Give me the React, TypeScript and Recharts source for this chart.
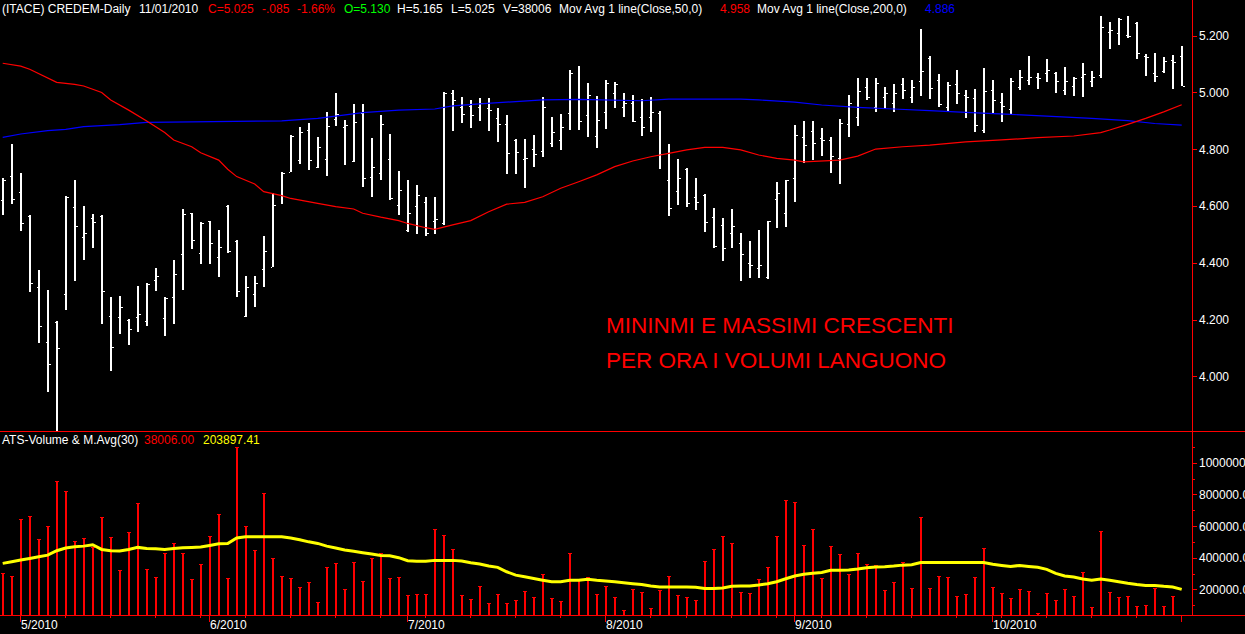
import React from 'react';
import { ComposedChart, Bar, Line, XAxis, YAxis } from 'recharts';

// ---- Daily OHLC (bar index 0 = 29/04/2010 ... 131 = 01/11/2010) ----
const highs = [
  4.699, 4.820, 4.716, 4.570, 4.376, 4.306, 4.197, 4.637, 4.693, 4.601,
  4.573, 4.570, 4.282, 4.285, 4.202, 4.320, 4.329, 4.382, 4.282, 4.411,
  4.591, 4.576, 4.544, 4.550, 4.517, 4.605, 4.482, 4.355, 4.355, 4.496,
  4.646, 4.720, 4.850, 4.878, 4.892, 4.843, 4.932, 4.998, 4.904, 4.961,
  4.961, 4.840, 4.922, 4.855, 4.725, 4.693, 4.675, 4.634, 4.634, 5.004,
  5.010, 4.986, 4.975, 4.982, 4.982, 4.945, 4.922, 4.836, 4.836, 4.851,
  4.986, 4.914, 4.924, 5.080, 5.094, 5.036, 4.989, 5.045, 5.039, 5.001,
  4.992, 4.977, 4.984, 4.937, 4.820, 4.766, 4.734, 4.699, 4.644, 4.593,
  4.558, 4.590, 4.505, 4.478, 4.517, 4.550, 4.687, 4.693, 4.887, 4.901,
  4.901, 4.875, 4.845, 4.907, 4.992, 5.051, 5.051, 5.051, 5.022, 5.031,
  5.051, 5.045, 5.223, 5.130, 5.066, 5.039, 5.080, 5.010, 5.012, 5.086,
  5.045, 5.000, 5.051, 5.080, 5.130, 5.071, 5.118, 5.074, 5.090, 5.054,
  5.104, 5.077, 5.270, 5.248, 5.262, 5.270, 5.248, 5.137, 5.139, 5.127,
  5.133, 5.165,
];
const lows = [
  4.567, 4.608, 4.511, 4.300, 4.118, 3.948, 3.780, 4.235, 4.339, 4.411,
  4.455, 4.186, 4.022, 4.151, 4.110, 4.159, 4.177, 4.300, 4.145, 4.187,
  4.306, 4.450, 4.397, 4.397, 4.353, 4.437, 4.282, 4.212, 4.247, 4.317,
  4.385, 4.608, 4.719, 4.747, 4.726, 4.734, 4.705, 4.881, 4.746, 4.757,
  4.670, 4.634, 4.693, 4.623, 4.570, 4.511, 4.503, 4.496, 4.503, 4.535,
  4.867, 4.895, 4.877, 4.902, 4.867, 4.824, 4.714, 4.714, 4.662, 4.740,
  4.775, 4.808, 4.796, 4.867, 4.867, 4.846, 4.807, 4.874, 4.946, 4.918,
  4.898, 4.846, 4.861, 4.732, 4.567, 4.603, 4.596, 4.585, 4.511, 4.452,
  4.405, 4.452, 4.335, 4.347, 4.347, 4.347, 4.526, 4.526, 4.617, 4.752,
  4.763, 4.775, 4.719, 4.678, 4.845, 4.881, 4.972, 4.930, 4.945, 4.934,
  4.977, 4.965, 4.986, 4.977, 4.951, 4.937, 4.960, 4.910, 4.860, 4.857,
  4.930, 4.898, 4.925, 5.010, 5.027, 5.013, 5.036, 5.000, 4.992, 4.986,
  4.986, 5.022, 5.053, 5.154, 5.166, 5.192, 5.119, 5.060, 5.036, 5.071,
  5.013, 5.025,
];
const opens = [
  4.623, 4.708, 4.650, 4.567, 4.315, 4.121, 4.194, 4.290, 4.597, 4.491,
  4.560, 4.567, 4.214, 4.209, 4.200, 4.209, 4.197, 4.341, 4.207, 4.280,
  4.431, 4.576, 4.435, 4.547, 4.421, 4.603, 4.478, 4.215, 4.290, 4.378,
  4.388, 4.641, 4.721, 4.763, 4.869, 4.738, 4.766, 4.907, 4.878, 4.760,
  4.928, 4.705, 4.716, 4.767, 4.605, 4.517, 4.601, 4.614, 4.550, 4.540,
  4.998, 4.951, 4.954, 4.951, 4.945, 4.910, 4.890, 4.834, 4.766, 4.801,
  4.796, 4.822, 4.834, 4.928, 4.977, 4.922, 4.848, 4.934, 4.998, 4.949,
  4.963, 4.914, 4.916, 4.928, 4.693, 4.655, 4.731, 4.634, 4.640, 4.564,
  4.534, 4.505, 4.470, 4.400, 4.382, 4.350, 4.625, 4.576, 4.699, 4.845,
  4.867, 4.840, 4.834, 4.769, 4.889, 4.914, 5.019, 4.949, 4.984, 4.963,
  5.031, 4.986, 5.043, 5.121, 5.045, 4.951, 5.031, 4.992, 4.980, 4.869,
  5.010, 4.969, 4.942, 5.022, 5.045, 5.057, 5.071, 5.068, 5.010, 5.024,
  5.057, 5.043, 5.063, 5.215, 5.209, 5.203, 5.245, 5.130, 5.068, 5.078,
  5.115, 5.130,
];
const closes = [
  4.693, 4.626, 4.540, 4.329, 4.180, 4.045, 4.100, 4.634, 4.531, 4.505,
  4.545, 4.302, 4.105, 4.246, 4.168, 4.221, 4.326, 4.355, 4.279, 4.362,
  4.574, 4.482, 4.540, 4.472, 4.458, 4.443, 4.302, 4.315, 4.331, 4.443,
  4.605, 4.719, 4.849, 4.862, 4.763, 4.808, 4.883, 4.925, 4.887, 4.898,
  4.701, 4.740, 4.890, 4.628, 4.658, 4.578, 4.640, 4.507, 4.554, 5.001,
  4.975, 4.925, 4.922, 4.965, 4.939, 4.889, 4.789, 4.790, 4.770, 4.783,
  4.949, 4.863, 4.881, 5.071, 4.902, 4.992, 4.904, 5.036, 5.031, 4.963,
  4.901, 4.881, 4.934, 4.784, 4.593, 4.701, 4.611, 4.617, 4.546, 4.461,
  4.455, 4.531, 4.432, 4.394, 4.393, 4.549, 4.646, 4.693, 4.851, 4.816,
  4.822, 4.834, 4.779, 4.895, 4.965, 5.007, 4.984, 5.033, 5.000, 4.998,
  5.010, 5.022, 5.077, 5.018, 4.959, 5.027, 4.998, 4.984, 4.887, 5.007,
  4.975, 4.953, 5.043, 5.054, 5.057, 5.053, 5.080, 5.043, 5.043, 5.051,
  5.066, 5.054, 5.233, 5.221, 5.259, 5.200, 5.139, 5.125, 5.059, 5.112,
  5.110, 5.025,
];

// Moving averages: [bar index, value]
const ma50Points: [number, number][] = [
  [0, 5.104], [2, 5.094], [3, 5.083], [6, 5.037], [8, 5.030], [9, 5.024], [11, 5.001], [12, 4.975],
  [14, 4.939], [16, 4.901], [18, 4.860], [19, 4.834], [21, 4.810], [22, 4.789], [24, 4.763], [25, 4.731],
  [26, 4.705], [28, 4.679], [29, 4.652], [31, 4.638], [32, 4.628], [35, 4.611], [37, 4.599], [39, 4.591],
  [40, 4.576], [42, 4.562], [44, 4.550], [45, 4.540], [47, 4.525], [48, 4.519], [50, 4.535], [52, 4.550],
  [54, 4.581], [56, 4.608], [58, 4.614], [60, 4.634], [62, 4.664], [64, 4.687], [66, 4.711], [68, 4.740],
  [70, 4.760], [72, 4.775], [74, 4.787], [76, 4.799], [78, 4.808], [80, 4.808], [82, 4.799], [84, 4.781],
  [86, 4.769], [88, 4.763], [89, 4.757], [93, 4.763], [95, 4.777], [97, 4.802], [100, 4.810], [103, 4.816],
  [107, 4.827], [111, 4.834], [115, 4.842], [119, 4.848], [122, 4.860], [123, 4.869], [125, 4.889],
  [127, 4.910], [129, 4.933], [131, 4.958],
];
const ma200Points: [number, number][] = [
  [0, 4.843], [2, 4.855], [5, 4.867], [7, 4.871], [9, 4.881], [13, 4.888], [16, 4.896], [21, 4.898],
  [31, 4.901], [35, 4.910], [37, 4.918], [40, 4.930], [44, 4.939], [48, 4.943], [50, 4.954], [53, 4.961],
  [57, 4.969], [60, 4.975], [64, 4.977], [71, 4.972], [74, 4.978], [82, 4.978], [84, 4.975], [88, 4.967],
  [91, 4.957], [95, 4.949], [99, 4.943], [103, 4.937], [107, 4.931], [112, 4.924], [116, 4.918],
  [121, 4.910], [125, 4.902], [128, 4.892], [131, 4.886],
];

// ---- Volume and its 30-day average ----
const volumes = [
  309000, 290000, 649000, 666000, 519000, 603000, 889000, 824000, 511000, 528000,
  473000, 662000, 536000, 328000, 567000, 750000, 334000, 280000, 431000, 498000,
  435000, 271000, 364000, 542000, 681000, 278000, 1103000, 605000, 454000, 813000,
  404000, 290000, 278000, 221000, 252000, 126000, 347000, 372000, 208000, 378000,
  259000, 404000, 435000, 278000, 284000, 171000, 173000, 177000, 582000, 549000,
  456000, 171000, 145000, 227000, 120000, 177000, 120000, 139000, 196000, 158000,
  303000, 152000, 133000, 435000, 263000, 284000, 177000, 223000, 158000, 76000,
  206000, 189000, 89000, 198000, 290000, 166000, 158000, 139000, 385000, 456000,
  542000, 498000, 189000, 183000, 271000, 347000, 542000, 769000, 756000, 483000,
  582000, 278000, 479000, 429000, 303000, 435000, 366000, 360000, 202000, 252000,
  374000, 215000, 662000, 215000, 286000, 280000, 160000, 173000, 280000, 467000,
  221000, 183000, 152000, 208000, 196000, 53000, 183000, 139000, 208000, 164000,
  315000, 95000, 574000, 189000, 158000, 164000, 101000, 108000, 215000, 101000,
  164000, 38006,
];
const volumeAvg30 = [
  368000, 378000, 389000, 399000, 410000, 420000, 448000, 465000, 473000, 477000,
  486000, 456000, 448000, 446000, 456000, 469000, 462000, 460000, 456000, 462000,
  467000, 469000, 471000, 481000, 492000, 494000, 528000, 536000, 536000, 536000,
  536000, 536000, 528000, 517000, 504000, 494000, 477000, 465000, 452000, 444000,
  435000, 427000, 418000, 416000, 404000, 385000, 381000, 381000, 387000, 387000,
  387000, 383000, 372000, 364000, 351000, 343000, 315000, 294000, 284000, 273000,
  261000, 252000, 252000, 261000, 261000, 267000, 261000, 257000, 252000, 246000,
  240000, 234000, 225000, 219000, 219000, 219000, 219000, 217000, 210000, 210000,
  213000, 223000, 225000, 225000, 231000, 240000, 252000, 271000, 288000, 299000,
  305000, 311000, 324000, 324000, 326000, 332000, 341000, 345000, 347000, 351000,
  357000, 360000, 374000, 374000, 374000, 374000, 374000, 374000, 374000, 374000,
  362000, 355000, 349000, 355000, 349000, 343000, 330000, 305000, 288000, 282000,
  269000, 261000, 269000, 261000, 252000, 242000, 234000, 229000, 229000, 223000,
  219000, 203897,
];

// ---- Axis ticks and labels ----
const monthTickIndex = [2, 23, 45, 67, 88, 110];
const monthTickLabels = ['5/2010', '6/2010', '7/2010', '8/2010', '9/2010', '10/2010'];
const weekTickIndex = [2, 7, 12, 17, 22, 27, 32, 37, 42, 47, 52, 57, 62, 67, 72, 76, 81, 86, 91, 96, 101, 106, 111, 116, 121, 126, 131];
const endTickIndex = [131];
const priceTicks = [4.0, 4.2, 4.4, 4.6, 4.8, 5.0, 5.2];
const volumeTicks = [100000, 200000, 300000, 400000, 500000, 600000, 700000, 800000, 900000, 1000000, 1100000];
const volumeLabelTicks = [200000, 400000, 600000, 800000, 1000000];

const FONT = '"Liberation Sans", Arial, Helvetica, sans-serif';
const X_DOMAIN: [number, number] = [-0.3, 132.144];

const ma50Map = new Map<number, number>(ma50Points);
const ma200Map = new Map<number, number>(ma200Points);

const data = closes.map((c, i) => ({
  i,
  open: opens[i],
  high: highs[i],
  low: lows[i],
  close: c,
  range: [lows[i], highs[i]],
  ma50: ma50Map.has(i) ? ma50Map.get(i) : null,
  ma200: ma200Map.has(i) ? ma200Map.get(i) : null,
  vol: volumes[i],
  vma: volumeAvg30[i],
}));

const allXTicks = Array.from(new Set([...weekTickIndex, ...monthTickIndex, ...endTickIndex])).sort((a, b) => a - b);

const OhlcShape = (props: any) => {
  const { x, y, width, height, index } = props;
  const d = props.payload && props.payload.high != null ? props.payload : data[index];
  if (x == null || y == null || !d) return null;
  const top = Math.min(y, y + height);
  const h = Math.abs(height);
  const cx = Math.floor(x + width / 2);
  const span = d.high - d.low || 1;
  const py = (v: number) => Math.round(top + ((d.high - v) / span) * h);
  const oy = py(d.open);
  const cy = py(d.close);
  return (
    <g shapeRendering="crispEdges">
      <rect x={cx - 1} y={Math.round(top)} width={2} height={Math.max(Math.round(h), 1)} fill="#ffffff" />
      <rect x={cx - 2} y={oy} width={1} height={1} fill="#ffffff" />
      <rect x={cx + 1} y={cy} width={2} height={1} fill="#ffffff" />
    </g>
  );
};

const VolumeShape = (props: any) => {
  const { x, y, width, height } = props;
  if (x == null || y == null) return null;
  const top = Math.min(y, y + height);
  const h = Math.abs(height);
  if (h <= 0) return null;
  const cx = Math.floor(x + width / 2);
  return (
    <g shapeRendering="crispEdges">
      <rect x={cx - 1} y={Math.round(top)} width={2} height={Math.max(Math.round(h), 1)} fill="#ff0000" />
      <rect x={cx - 2} y={Math.round(top)} width={4} height={1} fill="#ff0000" />
    </g>
  );
};

const PriceTick = (props: any) => {
  const { x, y, payload } = props;
  return (
    <g>
      <line x1={x} x2={x + 5} y1={y} y2={y} stroke="#ff0000" shapeRendering="crispEdges" />
      <text x={x + 7} y={y + 4} fill="#ffffff" fontSize={12} fontFamily={FONT}>
        {Number(payload.value).toFixed(3)}
      </text>
    </g>
  );
};

const VolumeTick = (props: any) => {
  const { x, y, payload } = props;
  const v = Number(payload.value);
  const labeled = volumeLabelTicks.includes(v);
  return (
    <g>
      <line x1={x} x2={x + (labeled ? 5 : 3)} y1={y} y2={y} stroke="#ff0000" shapeRendering="crispEdges" />
      {labeled && (
        <text x={x + 7} y={y + 4} fill="#ffffff" fontSize={12} fontFamily={FONT}>
          {v.toFixed(2)}
        </text>
      )}
    </g>
  );
};

const DateTick = (props: any) => {
  const { x, y, payload } = props;
  const v = Number(payload.value);
  const mi = monthTickIndex.indexOf(v);
  const major = mi >= 0 || endTickIndex.includes(v);
  const px = Math.floor(x);
  return (
    <g>
      <line x1={px} x2={px} y1={y} y2={y + (major ? 7 : 3)} stroke="#ff0000" shapeRendering="crispEdges" />
      {mi >= 0 && (
        <text x={px + 1} y={y + 14} fill="#ffffff" fontSize={12} fontFamily={FONT}>
          {monthTickLabels[mi]}
        </text>
      )}
    </g>
  );
};

const title: { t: string; x: number; c: string }[] = [
  { t: '(ITACE) CREDEM-Daily', x: 2, c: '#ffffff' },
  { t: '11/01/2010', x: 139, c: '#ffffff' },
  { t: 'C=5.025', x: 208, c: '#ff0000' },
  { t: '-.085', x: 262, c: '#ff0000' },
  { t: '-1.66%', x: 297, c: '#ff0000' },
  { t: 'O=5.130', x: 344, c: '#00ff00' },
  { t: 'H=5.165', x: 397, c: '#ffffff' },
  { t: 'L=5.025', x: 451, c: '#ffffff' },
  { t: 'V=38006', x: 503, c: '#ffffff' },
  { t: 'Mov Avg 1 line(Close,50,0)', x: 559, c: '#ffffff' },
  { t: '4.958', x: 720, c: '#ff0000' },
  { t: 'Mov Avg 1 line(Close,200,0)', x: 757, c: '#ffffff' },
  { t: '4.886', x: 925, c: '#0000ff' },
];

const volTitle: { t: string; x: number; c: string }[] = [
  { t: 'ATS-Volume & M.Avg(30)', x: 2, c: '#ffffff' },
  { t: '38006.00', x: 144, c: '#ff0000' },
  { t: '203897.41', x: 203, c: '#ffff00' },
];

export default function App() {
  return (
    <div
      style={{
        position: 'absolute',
        left: 0,
        top: 0,
        width: 1245,
        height: 634,
        background: '#000000',
        overflow: 'hidden',
      }}
    >
      <div style={{ position: 'absolute', left: 0, top: 0 }}>
        <ComposedChart width={1245} height={431} data={data} margin={{ top: 0, right: 0, bottom: 0, left: 0 }}>
          <XAxis type="number" dataKey="i" domain={X_DOMAIN} allowDataOverflow hide />
          <YAxis
            orientation="right"
            width={53}
            domain={[3.8092, 5.3268]}
            allowDataOverflow
            ticks={priceTicks}
            interval={0}
            tickLine={false}
            tickSize={0}
            tickMargin={0}
            axisLine={{ stroke: '#ff0000', shapeRendering: 'crispEdges' }}
            tick={(p: any) => <PriceTick {...p} />}
          />
          <Bar dataKey="range" barSize={6} isAnimationActive={false} shape={(p: any) => <OhlcShape {...p} />} />
          <Line type="linear" dataKey="ma200" stroke="#0000ff" strokeWidth={1.2} dot={false} activeDot={false} connectNulls isAnimationActive={false} />
          <Line type="linear" dataKey="ma50" stroke="#ff0000" strokeWidth={1.2} dot={false} activeDot={false} connectNulls isAnimationActive={false} />
        </ComposedChart>
      </div>
      <div style={{ position: 'absolute', left: 0, top: 431 }}>
        <ComposedChart width={1245} height={203} data={data} margin={{ top: 0, right: 0, bottom: 0, left: 0 }}>
          <XAxis
            type="number"
            dataKey="i"
            domain={X_DOMAIN}
            allowDataOverflow
            ticks={allXTicks}
            interval={0}
            height={19}
            tickLine={false}
            tickSize={0}
            tickMargin={0}
            axisLine={{ stroke: '#ff0000', shapeRendering: 'crispEdges' }}
            tick={(p: any) => <DateTick {...p} />}
          />
          <YAxis
            orientation="right"
            width={53}
            domain={[42100, 1203900]}
            allowDataOverflow
            ticks={volumeTicks}
            interval={0}
            tickLine={false}
            tickSize={0}
            tickMargin={0}
            axisLine={{ stroke: '#ff0000', shapeRendering: 'crispEdges' }}
            tick={(p: any) => <VolumeTick {...p} />}
          />
          <Bar dataKey="vol" barSize={2} isAnimationActive={false} shape={(p: any) => <VolumeShape {...p} />} />
          <Line type="linear" dataKey="vma" stroke="#ffff00" strokeWidth={3} dot={false} activeDot={false} isAnimationActive={false} />
        </ComposedChart>
      </div>
      <svg
        width={1245}
        height={634}
        style={{ position: 'absolute', left: 0, top: 0, pointerEvents: 'none' }}
      >
        <line x1={0} x2={1245} y1={431.5} y2={431.5} stroke="#ff0000" strokeWidth={1} />
        <line x1={1192} x2={1245} y1={615.5} y2={615.5} stroke="#ff0000" strokeWidth={1} />
        {title.map((s) => (
          <text key={s.t + s.x} x={s.x} y={13} fill={s.c} fontSize={12} fontFamily={FONT}>
            {s.t}
          </text>
        ))}
        {volTitle.map((s) => (
          <text key={s.t + s.x} x={s.x} y={444} fill={s.c} fontSize={12} fontFamily={FONT}>
            {s.t}
          </text>
        ))}
        <text x={606} y={333} fill="#ff0000" fontSize={22.5} fontFamily={FONT}>
          MININMI E MASSIMI CRESCENTI
        </text>
        <text x={606} y={368} fill="#ff0000" fontSize={22.5} fontFamily={FONT}>
          PER ORA I VOLUMI LANGUONO
        </text>
      </svg>
    </div>
  );
}
